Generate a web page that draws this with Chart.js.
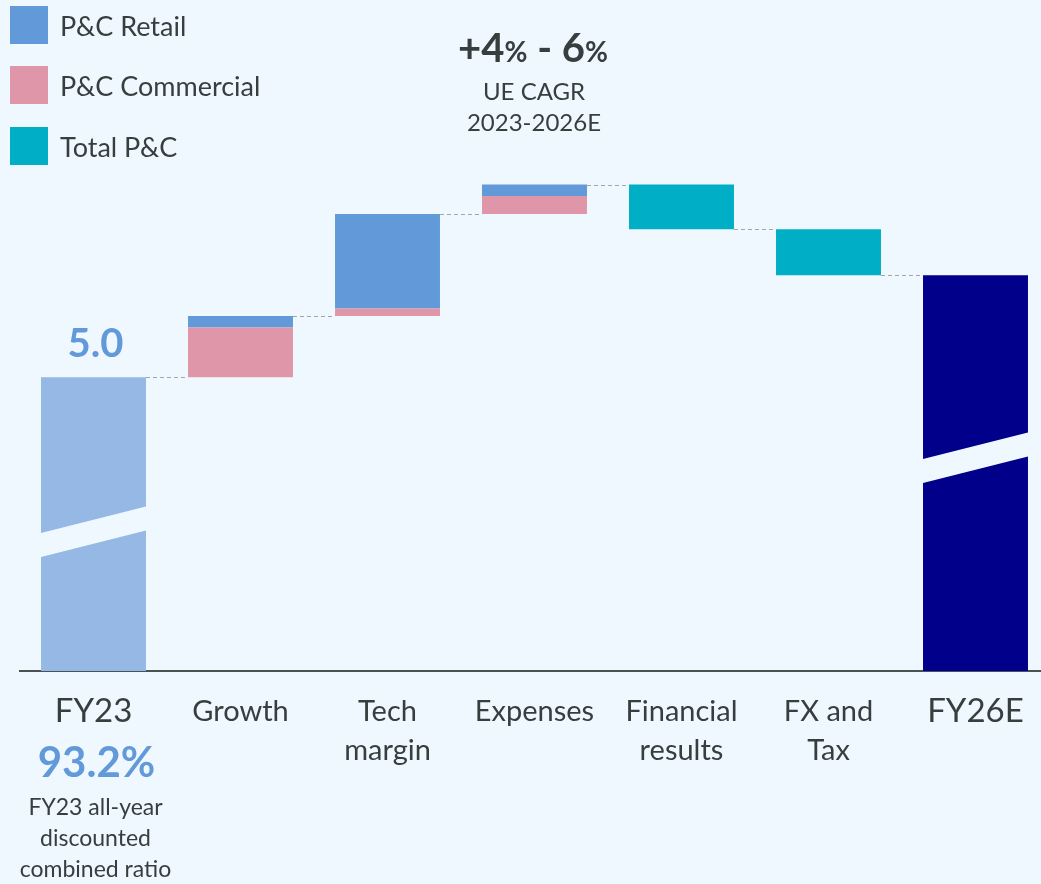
<!DOCTYPE html>
<html>
<head>
<meta charset="utf-8">
<script src="https://cdn.jsdelivr.net/npm/chart.js@4.4.1/dist/chart.umd.min.js"></script>
<style>
  html, body { margin: 0; padding: 0; background: #f0f8ff; overflow: hidden; }
  #wrap { position: relative; width: 1050px; height: 884px; }
</style>
</head>
<body>
<div id="wrap"><canvas id="ueChart"></canvas></div>
<script>
// UE bridge FY23 -> FY26E
const categories = ['FY23', 'Growth', ['Tech', 'margin'], 'Expenses', ['Financial', 'results'], ['FX and', 'Tax'], 'FY26E'];
const startValue = 5.0;   // FY23
const endValue = 5.8;     // FY26E
const retail = [null, 0.09, 0.74, 0.09, null, null, null];
const commercial = [null, 0.39, 0.06, 0.14, null, null, null];
const totalPC = [null, null, null, null, -0.35, -0.36, null];
const legendLabels = ['P&C Retail', 'P&C Commercial', 'Total P&C'];
const startLabel = '5.0';
const ratioLabel = '93.2%';
const ratioNote = ['FY23 all-year', 'discounted', 'combined ratio'];
const cagrParts = ['+4', '%', ' - 6', '%'];
const cagrNote = ['UE CAGR', '2023-2026E'];

const yMin = 2.7, yMax = 7.0;
const FONT = 'Lato';
const TEXT = '#363e3e';
const BG = '#f0f8ff';
const colors = { fy23: '#95b9e4', retail: '#6299d9', commercial: '#e096a9', total: '#00afc6', fy26: '#00008b' };

// floating ranges for the waterfall
const retailBars = [], commercialBars = [], totalBars = [], levels = [];
let running = startValue;
categories.forEach((c, i) => {
  if (commercial[i] != null) {
    commercialBars.push([running, running + commercial[i]]);
    running += commercial[i];
  } else commercialBars.push(null);
  if (retail[i] != null) {
    retailBars.push([running, running + retail[i]]);
    running += retail[i];
  } else retailBars.push(null);
  if (totalPC[i] != null) {
    totalBars.push([running, running + totalPC[i]]);
    running += totalPC[i];
  } else totalBars.push(null);
  levels.push(i === categories.length - 1 ? endValue : running);
});

const bridgeDecor = {
  id: 'bridgeDecor',
  beforeDraw(chart) {
    const ctx = chart.ctx;
    ctx.save();
    ctx.fillStyle = BG;
    ctx.fillRect(0, 0, chart.width, chart.height);
    ctx.restore();
  },
  afterDatasetsDraw(chart) {
    const { ctx, scales: { x, y } } = chart;
    const half = chart.getDatasetMeta(0).data[0].width / 2;

    // dashed connectors
    ctx.save();
    ctx.setLineDash([4, 3]);
    ctx.strokeStyle = '#a3a6a8';
    ctx.lineWidth = 1;
    for (let i = 0; i < levels.length - 1; i++) {
      const py = Math.round(y.getPixelForValue(levels[i])) + 0.5;
      ctx.beginPath();
      ctx.moveTo(x.getPixelForValue(i) + half, py);
      ctx.lineTo(x.getPixelForValue(i + 1) - half, py);
      ctx.stroke();
    }
    ctx.restore();

    // axis break bands on the first and last bars
    ctx.save();
    ctx.fillStyle = BG;
    [{ i: 0, v: 3.79 }, { i: 6, v: 4.37 }].forEach(b => {
      const cx = x.getPixelForValue(b.i), cy = y.getPixelForValue(b.v);
      const l = cx - half - 1, r = cx + half + 1;
      ctx.beginPath();
      ctx.moveTo(l, cy + 1.5);
      ctx.lineTo(r, cy - 25.5);
      ctx.lineTo(r, cy - 1.5);
      ctx.lineTo(l, cy + 25.5);
      ctx.closePath();
      ctx.fill();
    });
    ctx.restore();

    ctx.save();
    ctx.textBaseline = 'middle';

    // legend
    const legendColors = [colors.retail, colors.commercial, colors.total];
    const legendY = [6, 66, 127];
    legendLabels.forEach((t, k) => {
      ctx.fillStyle = legendColors[k];
      ctx.fillRect(10, legendY[k], 38, 38);
      ctx.fillStyle = TEXT;
      ctx.font = `27px ${FONT}`;
      ctx.textAlign = 'left';
      ctx.fillText(t, 60, legendY[k] + 21);
    });

    // FY23 value label
    ctx.textAlign = 'center';
    ctx.fillStyle = colors.retail;
    ctx.font = `bold 40px ${FONT}`;
    ctx.fillText(startLabel, x.getPixelForValue(0) + 2, y.getPixelForValue(startValue) - 33);

    // ratio under FY23
    ctx.font = `bold 42px ${FONT}`;
    ctx.fillText(ratioLabel, x.getPixelForValue(0) + 3, 763);
    ctx.fillStyle = TEXT;
    ctx.font = `23px ${FONT}`;
    ratioNote.forEach((t, k) => ctx.fillText(t, x.getPixelForValue(0) + 2, 808 + k * 31));

    // CAGR headline
    const sizes = [40, 28, 40, 28];
    let total = 0;
    const widths = cagrParts.map((p, k) => {
      ctx.font = `bold ${sizes[k]}px ${FONT}`;
      const w = ctx.measureText(p).width;
      total += w;
      return w;
    });
    let px = 533 - total / 2;
    ctx.textAlign = 'left';
    ctx.textBaseline = 'alphabetic';
    cagrParts.forEach((p, k) => {
      ctx.font = `bold ${sizes[k]}px ${FONT}`;
      ctx.fillText(p, px, 62);
      px += widths[k];
    });
    ctx.textAlign = 'center';
    ctx.textBaseline = 'middle';
    ctx.font = `24px ${FONT}`;
    cagrNote.forEach((t, k) => ctx.fillText(t, 534, 92 + k * 31));
    ctx.restore();
  }
};

new Chart(document.getElementById('ueChart'), {
  type: 'bar',
  data: {
    labels: categories,
    datasets: [
      { label: 'FY23', data: categories.map((c, i) => i === 0 ? [yMin, startValue] : null), backgroundColor: colors.fy23 },
      { label: 'P&C Commercial', data: commercialBars, backgroundColor: colors.commercial },
      { label: 'P&C Retail', data: retailBars, backgroundColor: colors.retail },
      { label: 'Total P&C', data: totalBars, backgroundColor: colors.total },
      { label: 'FY26E', data: categories.map((c, i) => i === categories.length - 1 ? [yMin, endValue] : null), backgroundColor: colors.fy26 }
    ]
  },
  options: {
    responsive: true,
    maintainAspectRatio: false,
    animation: false,
    barPercentage: 0.714,
    categoryPercentage: 1,
    layout: { padding: { left: 20, right: 1, top: 122, bottom: 0 } },
    plugins: { legend: { display: false }, tooltip: { enabled: false } },
    scales: {
      x: {
        stacked: true,
        grid: { display: false, drawTicks: false },
        border: { display: true, color: '#4b5252', width: 2 },
        ticks: {
          color: TEXT,
          padding: 21,
          maxRotation: 0,
          autoSkip: false,
          font: (ctx) => ({
            family: FONT,
            size: (ctx.index === 0 || ctx.index === categories.length - 1) ? 33 : 29,
            lineHeight: '39px'
          })
        },
        afterFit: (scale) => { scale.height = 213; }
      },
      y: { display: false, min: yMin, max: yMax, stacked: false }
    }
  },
  plugins: [bridgeDecor]
});
</script>
</body>
</html>
